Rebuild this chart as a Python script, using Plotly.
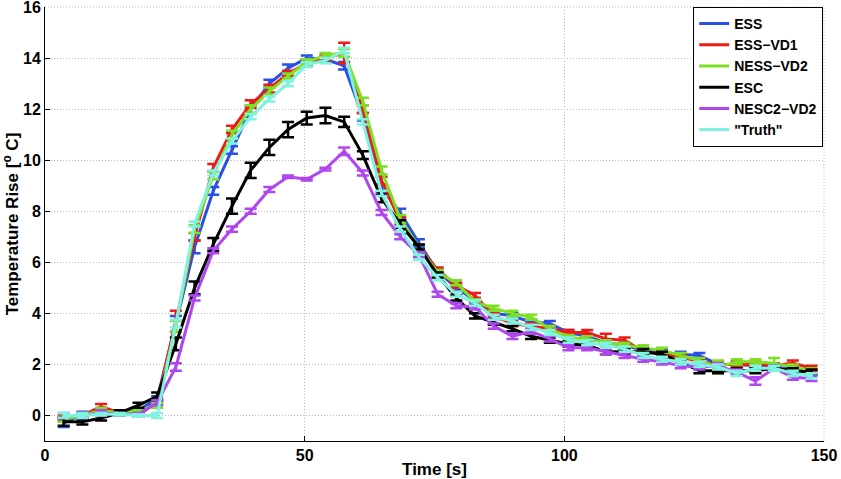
import plotly.graph_objects as go

time_s = [3.6, 7.2, 10.8, 14.4, 18.0, 21.6, 25.2, 28.8, 32.4, 36.0, 39.6, 43.2, 46.8, 50.4,
          54.0, 57.6, 61.2, 64.8, 68.4, 72.0, 75.6, 79.2, 82.8, 86.4, 90.0, 93.6, 97.2,
          100.8, 104.4, 108.0, 111.6, 115.2, 118.8, 122.4, 126.0, 129.6, 133.2, 136.8,
          140.4, 144.0, 147.6]

ess = [-0.3, 0.05, 0.1, 0.1, 0.2, 0.65, 3.6, 6.6, 8.8, 10.4, 12.0, 13.0, 13.6, 14.0,
       13.95, 13.7, 11.7, 8.9, 7.95, 6.75, 5.65, 5.0, 4.5, 4.0, 3.9, 3.65, 3.6,
       3.25, 3.1, 2.85, 2.75, 2.55, 2.45, 2.4, 2.35, 2.0, 2.0, 1.95, 1.9, 1.8, 1.7]
ess_err = [0.15, 0.1, 0.1, 0.05, 0.05, 0.1, 0.3, 0.25, 0.15, 0.15, 0.15, 0.15, 0.15, 0.1,
           0.1, 0.15, 0.15, 0.15, 0.15, 0.15, 0.1, 0.1, 0.1, 0.1, 0.1, 0.1, 0.1,
           0.1, 0.1, 0.1, 0.1, 0.1, 0.1, 0.1, 0.1, 0.1, 0.1, 0.1, 0.1, 0.1, 0.1]

ess_vd1 = [-0.1, 0.0, 0.35, 0.1, 0.0, 0.55, 3.7, 7.0, 9.7, 11.2, 12.2, 12.8, 13.4, 13.8,
           14.0, 14.2, 12.0, 9.2, 7.6, 6.6, 5.7, 5.1, 4.7, 3.9, 3.6, 3.5, 3.4,
           3.25, 3.25, 3.0, 2.95, 2.5, 2.4, 2.3, 2.1, 2.0, 2.0, 2.0, 1.95, 2.05, 1.85]
ess_vd1_err = [0.1, 0.1, 0.1, 0.05, 0.05, 0.1, 0.4, 0.15, 0.15, 0.15, 0.15, 0.15, 0.1, 0.1,
               0.1, 0.4, 0.15, 0.15, 0.15, 0.1, 0.1, 0.1, 0.1, 0.1, 0.1, 0.1, 0.1,
               0.1, 0.1, 0.2, 0.1, 0.1, 0.1, 0.1, 0.1, 0.1, 0.1, 0.1, 0.1, 0.1, 0.1]

ness_vd2 = [-0.15, 0.0, 0.2, 0.1, 0.2, 0.4, 3.5, 7.3, 9.4, 11.0, 12.0, 12.7, 13.3, 13.85,
            14.1, 14.2, 12.3, 9.6, 7.7, 6.6, 5.6, 5.2, 4.45, 4.2, 4.0, 3.85, 3.4,
            3.05, 3.0, 2.85, 2.75, 2.65, 2.55, 2.35, 2.15, 1.9, 2.1, 2.1, 2.05, 1.9, 1.75]
ness_vd2_err = [0.1, 0.1, 0.1, 0.05, 0.05, 0.1, 0.2, 0.15, 0.15, 0.15, 0.15, 0.15, 0.1, 0.1,
                0.1, 0.15, 0.15, 0.15, 0.15, 0.1, 0.1, 0.1, 0.1, 0.1, 0.1, 0.1, 0.1,
                0.1, 0.1, 0.1, 0.1, 0.1, 0.1, 0.1, 0.1, 0.25, 0.1, 0.1, 0.2, 0.1, 0.1]

esc = [-0.25, -0.25, -0.1, 0.1, 0.4, 0.75, 2.8, 5.0, 6.7, 8.2, 9.6, 10.5, 11.2, 11.65,
       11.75, 11.5, 10.2, 8.5, 7.5, 6.6, 5.5, 4.6, 3.9, 3.65, 3.4, 3.1, 2.95,
       2.8, 2.75, 2.5, 2.5, 2.5, 2.4, 2.1, 1.75, 1.75, 1.75, 1.75, 1.85, 1.75, 1.7]
esc_err = [0.15, 0.1, 0.1, 0.1, 0.1, 0.15, 0.25, 0.25, 0.25, 0.3, 0.3, 0.3, 0.3, 0.25,
           0.3, 0.2, 0.15, 0.15, 0.15, 0.1, 0.1, 0.1, 0.1, 0.1, 0.1, 0.1, 0.1,
           0.1, 0.1, 0.1, 0.1, 0.1, 0.1, 0.1, 0.1, 0.1, 0.1, 0.1, 0.1, 0.1, 0.1]

nesc2_vd2 = [0.0, 0.0, 0.1, 0.05, 0.05, 0.5, 1.9, 4.6, 6.45, 7.3, 8.0, 8.85, 9.35, 9.25,
             9.65, 10.35, 9.5, 7.95, 7.0, 6.3, 4.75, 4.3, 4.25, 3.5, 3.1, 3.3, 3.0,
             2.65, 2.65, 2.5, 2.35, 2.2, 2.1, 1.95, 1.9, 1.95, 1.7, 1.35, 1.85, 1.5, 1.45]
nesc2_vd2_err = [0.1, 0.1, 0.1, 0.05, 0.05, 0.1, 0.15, 0.1, 0.1, 0.1, 0.1, 0.1, 0.05, 0.05,
                 0.05, 0.15, 0.1, 0.1, 0.1, 0.1, 0.1, 0.1, 0.1, 0.1, 0.1, 0.1, 0.1,
                 0.1, 0.1, 0.1, 0.1, 0.1, 0.1, 0.1, 0.1, 0.1, 0.1, 0.15, 0.1, 0.1, 0.1]

truth = [0.0, 0.0, 0.05, 0.05, 0.0, 0.0, 3.6, 7.5, 9.5, 10.75, 11.7, 12.4, 13.0, 13.75,
         13.9, 14.3, 11.5, 8.7, 7.3, 6.2, 5.4, 4.75, 4.4, 3.85, 3.7, 3.45, 3.25,
         2.95, 2.85, 2.75, 2.6, 2.35, 2.2, 2.1, 2.0, 1.9, 1.65, 1.85, 1.85, 1.65, 1.55]
truth_err = [0.1, 0.1, 0.05, 0.05, 0.05, 0.1, 0.15, 0.1, 0.1, 0.1, 0.1, 0.1, 0.1, 0.1,
             0.1, 0.1, 0.1, 0.1, 0.1, 0.1, 0.1, 0.1, 0.1, 0.1, 0.1, 0.1, 0.1,
             0.1, 0.1, 0.1, 0.1, 0.1, 0.1, 0.1, 0.1, 0.1, 0.1, 0.1, 0.1, 0.1, 0.1]

series_names = ["ESS", "ESS\u2212VD1", "NESS\u2212VD2", "ESC", "NESC2\u2212VD2", "\"Truth\""]
series_values = [ess, ess_vd1, ness_vd2, esc, nesc2_vd2, truth]
series_errors = [ess_err, ess_vd1_err, ness_vd2_err, esc_err, nesc2_vd2_err, truth_err]
series_colors = ["#2850e8", "#ee1a1a", "#7ee022", "#000000", "#b046f0", "#80f2e2"]

x_ticks = [0, 50, 100, 150]
y_ticks = [0, 2, 4, 6, 8, 10, 12, 14, 16]

FONT = "Liberation Sans, Arial, Helvetica, sans-serif"
GRID = "#b8b8b8"
GRIDDASH = "1px,2px"

fig = go.Figure()
for name, vals, errs, col in zip(series_names, series_values, series_errors, series_colors):
    fig.add_trace(go.Scatter(
        x=time_s, y=vals, name=name, mode="lines",
        line=dict(color=col, width=3),
        error_y=dict(type="data", array=errs, visible=True, color=col,
                     thickness=2.5, width=6),
    ))

axis_common = dict(
    showline=True, linecolor="black", linewidth=1,
    ticks="inside", ticklen=5, tickcolor="black", tickwidth=1,
    showgrid=True, gridcolor=GRID, griddash=GRIDDASH, gridwidth=1,
    zeroline=False, mirror=False, ticklabeloverflow="allow", automargin=False,
    tickfont=dict(family=FONT, size=16, color="black", weight="bold"),
)

fig.update_layout(
    width=841, height=479,
    margin=dict(l=45, r=17, t=7, b=38),
    paper_bgcolor="white", plot_bgcolor="white",
    font=dict(family=FONT, color="black"),
    xaxis=dict(range=[0, 150], tickvals=x_ticks, **axis_common,
               title=dict(text="Time [s]", standoff=2,
                          font=dict(family=FONT, size=17, color="black", weight="bold"))),
    yaxis=dict(range=[-1, 16], tickvals=y_ticks, **axis_common,
               title=dict(text="Temperature Rise [<sup>o</sup> C]", standoff=4,
                          font=dict(family=FONT, size=17, color="black", weight="bold"))),
    legend=dict(x=0.999, y=1.0, xanchor="right", yanchor="top",
                bgcolor="white", bordercolor="black", borderwidth=1,
                font=dict(family=FONT, size=14, color="black", weight="bold"),
                itemwidth=30, tracegroupgap=0),
    showlegend=True,
    shapes=[
        dict(type="line", xref="paper", yref="paper", x0=0, x1=1, y0=1, y1=1,
             line=dict(color=GRID, width=1, dash=GRIDDASH), layer="below"),
        dict(type="line", xref="paper", yref="paper", x0=1, x1=1, y0=0, y1=1,
             line=dict(color=GRID, width=1, dash=GRIDDASH), layer="below"),
    ],
)

fig.write_html("out.html", config={"displayModeBar": False},
               post_script="document.body.style.margin='0';")
